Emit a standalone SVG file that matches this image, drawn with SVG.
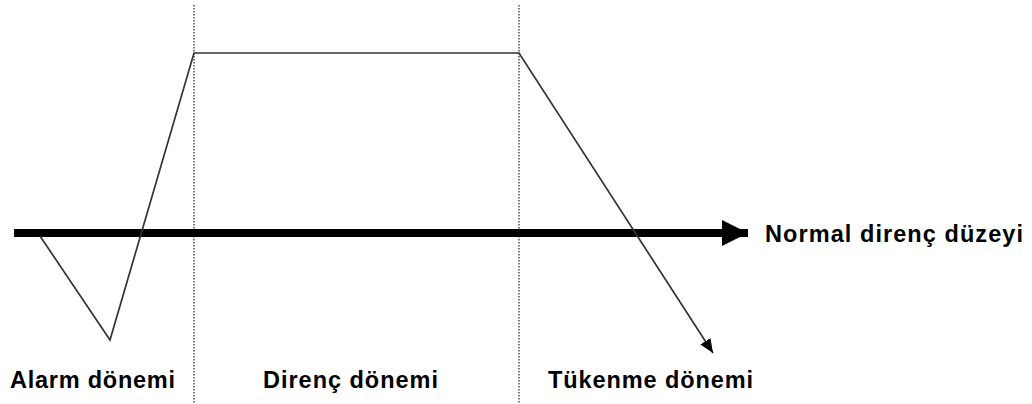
<svg xmlns="http://www.w3.org/2000/svg" width="1032" height="404" viewBox="0 0 1032 404">
<style>
.lbl{font-family:"Liberation Sans",Arial,sans-serif;font-weight:bold;font-size:23.5px;fill:#000}
.div{stroke:#333;stroke-width:1.3;stroke-dasharray:1.5 1.5;fill:none}
.trace{stroke:#333;stroke-width:1.7;fill:none}
</style>
<defs>
<marker id="bigHead" markerUnits="userSpaceOnUse" markerWidth="30" markerHeight="28" refX="27" refY="14" orient="auto">
<path d="M1,1 L27,14 L1,27 Z" fill="#000"/>
</marker>
<marker id="smallHead" markerUnits="userSpaceOnUse" markerWidth="16" markerHeight="14" refX="14" refY="7" orient="auto">
<path d="M0,1 L14,7 L0,13 Z" fill="#000"/>
</marker>
</defs>
<g id="dividers">
<line class="div" x1="194" y1="5" x2="194" y2="404"/>
<line class="div" x1="519" y1="5" x2="519" y2="404"/>
</g>
<g id="connectors">
<line id="baseline-arrow" x1="14" y1="233" x2="748" y2="233" stroke="#000" stroke-width="8" marker-end="url(#bigHead)"/>
<polyline id="trace" class="trace" points="40,236 110,340 194,53 519,53 713,353" marker-end="url(#smallHead)"/>
</g>
<g id="label-normal"><text class="lbl" x="765" y="242" textLength="258" lengthAdjust="spacing">Normal direnç düzeyi</text></g>
<g id="label-alarm"><text class="lbl" x="10" y="388" textLength="165" lengthAdjust="spacing">Alarm dönemi</text></g>
<g id="label-direnc"><text class="lbl" x="263" y="388" textLength="175" lengthAdjust="spacing">Direnç dönemi</text></g>
<g id="label-tukenme"><text class="lbl" x="548" y="388" textLength="205" lengthAdjust="spacing">Tükenme dönemi</text></g>
</svg>
